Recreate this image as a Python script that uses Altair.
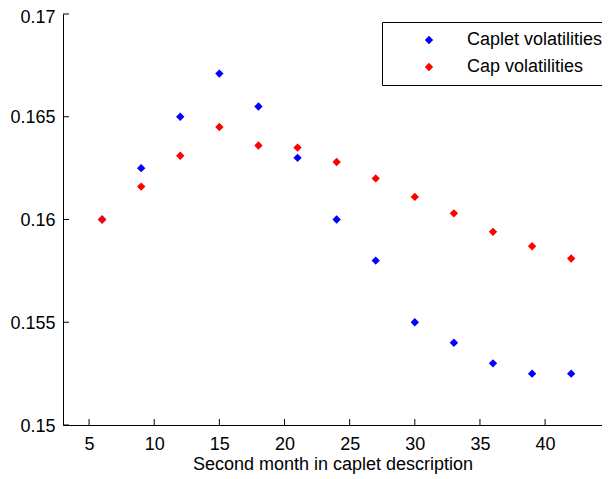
import altair as alt
import pandas as pd

# ---- data ----
months = [6, 9, 12, 15, 18, 21, 24, 27, 30, 33, 36, 39, 42, 45]
caplet_vol = [0.1600, 0.1625, 0.1650, 0.1671, 0.1655, 0.1630, 0.1600,
              0.1580, 0.1550, 0.1540, 0.1530, 0.1525, 0.1525, 0.1525]
cap_vol = [0.1600, 0.1616, 0.1631, 0.1645, 0.1636, 0.1635, 0.1628,
           0.1620, 0.1611, 0.1603, 0.1594, 0.1587, 0.1581, 0.1576]
series_names = ["Caplet volatilities", "Cap volatilities"]
series_colors = ["#0000ff", "#ff0000"]
x_ticks = [5, 10, 15, 20, 25, 30, 35, 40, 45]
y_ticks = [0.15, 0.155, 0.16, 0.165, 0.17]
x_title = "Second month in caplet description"

FONT = "Liberation Sans"
W, H = 539, 411
TICK = 6

df = pd.DataFrame({
    "month": months + months,
    "vol": caplet_vol + cap_vol,
    "series": [series_names[0]] * len(months) + [series_names[1]] * len(months),
})

xscale = alt.Scale(domain=[3, 3 + W / 13.03], nice=False, zero=False)
yscale = alt.Scale(domain=[0.15, 0.17], nice=False, zero=False)
xaxis = alt.Axis(values=x_ticks, title=x_title, labelPadding=10, titlePadding=2)
yaxis = alt.Axis(
    values=y_ticks, format=".3~f", title=None, labelPadding=8,
    labelOffset={"condition": {"test": "datum.value >= 0.1699", "value": 3},
                 "value": 1},
)

points = alt.Chart(df).mark_point(
    shape="diamond", filled=True, size=70, opacity=1, clip=False
).encode(
    x=alt.X("month:Q", scale=xscale, axis=xaxis),
    y=alt.Y("vol:Q", scale=yscale, axis=yaxis),
    color=alt.Color(
        "series:N",
        scale=alt.Scale(domain=series_names, range=series_colors),
        sort=series_names,
        legend=alt.Legend(title=None, orient="none", legendX=319, legendY=8,
                          strokeColor="black", fillColor="white", padding=9,
                          symbolOffset=29, labelOffset=29, rowPadding=9,
                          symbolSize=70, symbolType="diamond",
                          symbolStrokeWidth=0, labelFont=FONT,
                          labelFontSize=18, labelColor="black",
                          labelLimit=300),
    ),
)

xt = alt.Chart(pd.DataFrame({"month": x_ticks})).mark_rule(
    color="black", strokeWidth=1
).encode(
    x=alt.X("month:Q", scale=xscale, axis=xaxis),
    y=alt.value(H), y2=alt.value(H - TICK),
)

yt = alt.Chart(pd.DataFrame({"vol": y_ticks})).mark_rule(
    color="black", strokeWidth=1
).encode(
    y=alt.Y("vol:Q", scale=yscale, axis=yaxis),
    x=alt.value(0), x2=alt.value(TICK),
)

chart = alt.layer(points, xt, yt).properties(
    width=W, height=H, autosize="none",
    padding={"left": 55, "top": 6, "right": 0, "bottom": 54},
).configure_view(stroke=None).configure_axis(
    grid=False, ticks=False, tickSize=0, domainColor="black", domainWidth=1,
    labelFont=FONT, labelFontSize=18, labelColor="black",
    titleFont=FONT, titleFontSize=18, titleFontWeight="normal",
    titleColor="black",
)

chart.save("out.html", embed_options={"renderer": "svg", "actions": False})
